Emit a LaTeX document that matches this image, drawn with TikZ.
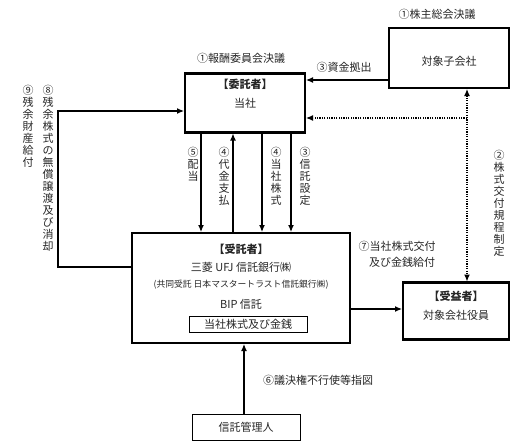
\documentclass[tikz,border=0pt]{standalone}
\usepackage{fontspec}
\setmainfont{Noto Sans CJK JP}
\usetikzlibrary{arrows.meta}
\begin{document}
\begin{tikzpicture}[x=1pt,y=-1pt,
  every node/.style={inner sep=0pt, outer sep=0pt, text=black!85},
  lbl/.style={font=\fontsize{11}{12}\selectfont, anchor=center},
  blbl/.style={font=\fontsize{11}{12}\selectfont\bfseries, anchor=center},
  small/.style={font=\fontsize{8.8}{10}\selectfont, anchor=center},
  vlbl/.style={font=\fontsize{11}{12}\selectfont, align=center, anchor=north},
  tbox/.style={draw=black, line width=2.6pt},
  nbox/.style={draw=black, line width=0.8pt},
  arr/.style={draw=black, line width=1.2pt, -{Latex[length=7pt,width=6pt]}, shorten >=1pt},
  darr/.style={draw=black, line width=1.2pt, dash pattern=on 1.2pt off 1.2pt, -{Latex[length=7pt,width=6pt]}, shorten >=1pt},
  ddarr/.style={draw=black, line width=1.2pt, dash pattern=on 1.2pt off 1.2pt, {Latex[length=7pt,width=6pt]}-{Latex[length=7pt,width=6pt]}, shorten >=1pt, shorten <=1pt}
]
\useasboundingbox (0,0) rectangle (516,447);

% boxes
\node[tbox, minimum width=120pt, minimum height=59pt] (itaku) at (245,103) {};
\node[tbox, minimum width=120pt, minimum height=60pt] (sub) at (449,58) {};
\node[tbox, minimum width=218pt, minimum height=110pt] (trustee) at (241,288) {};
\node[tbox, minimum width=106pt, minimum height=57pt] (benef) at (456,311) {};
\node[nbox, minimum width=108pt, minimum height=26pt] (admin) at (246,427) {};
\node[nbox, minimum width=118pt, minimum height=16pt] (inner) at (248,324) {};

% box texts
\node[blbl] (t1) at (245,84) {【委託者】};
\node[lbl] (t2) at (245,103) {当社};
\node[lbl] (t3) at (449,61) {対象子会社};
\node[blbl] (t4) at (241,249) {【受託者】};
\node[lbl] (t5) at (241,267) {三菱 UFJ 信託銀行㈱};
\node[small] (t6) at (241,285) {(共同受託\ 日本マスタートラスト信託銀行㈱)};
\node[lbl] (t7) at (241,304) {BIP 信託};
\node[lbl] (t8) at (inner.center) {当社株式及び金銭};
\node[blbl] (t9) at (456,296) {【受益者】};
\node[lbl] (t10) at (456,315) {対象会社役員};
\node[lbl] (t11) at (admin.center) {信託管理人};

% horizontal labels
\node[lbl] (h1) at (241,58) {①報酬委員会決議};
\node[lbl] (h2) at (437,14) {①株主総会決議};
\node[lbl] (h3) at (344,67) {③資金拠出};
\node[lbl] (h7a) at (397,246) {⑦当社株式交付};
\node[lbl] (h7b) at (402,262) {及び金銭給付};
\node[lbl] (h6) at (318,380) {⑥議決権不行使等指図};

% vertical labels
\node[vlbl] (v5) at (193,147) {⑤\\配\\当};
\node[vlbl] (v4a) at (224,147) {④\\代\\金\\支\\払};
\node[vlbl] (v4b) at (276,147) {④\\当\\社\\株\\式};
\node[vlbl] (v3) at (305,147) {③\\信\\託\\設\\定};
\node[vlbl] (v2) at (499,150) {②\\株\\式\\交\\付\\規\\程\\制\\定};
\node[vlbl] (v8) at (48,85) {⑧\\残\\余\\株\\式\\の\\無\\償\\譲\\渡\\及\\び\\消\\却};
\node[vlbl] (v9) at (28,85) {⑨\\残\\余\\財\\産\\給\\付};

% connectors
\coordinate (y3) at (0,80);
\draw[arr] (sub.west |- y3) -- (itaku.east |- y3);

\coordinate (dj) at (467,118);
\draw[darr] (dj) -- (itaku.east |- dj);
\draw[ddarr] (sub.south -| dj) -- (benef.north -| dj);

\coordinate (x5) at (201,0);
\coordinate (x4a) at (233,0);
\coordinate (x4b) at (262,0);
\coordinate (x3) at (291,0);
\draw[arr] (itaku.south -| x5) -- (trustee.north -| x5);
\draw[arr] (trustee.north -| x4a) -- (itaku.south -| x4a);
\draw[arr] (itaku.south -| x4b) -- (trustee.north -| x4b);
\draw[arr] (itaku.south -| x3) -- (trustee.north -| x3);

\coordinate (k1) at (58,267);
\coordinate (k2) at (58,111);
\draw[arr] (trustee.west |- k1) -- (k1) -- (k2) -- (itaku.west |- k2);

\coordinate (y7) at (0,309);
\draw[arr] (trustee.east |- y7) -- (benef.west |- y7);

\coordinate (x6) at (244,0);
\draw[arr] (admin.north -| x6) -- (trustee.south -| x6);
\end{tikzpicture}
\end{document}
